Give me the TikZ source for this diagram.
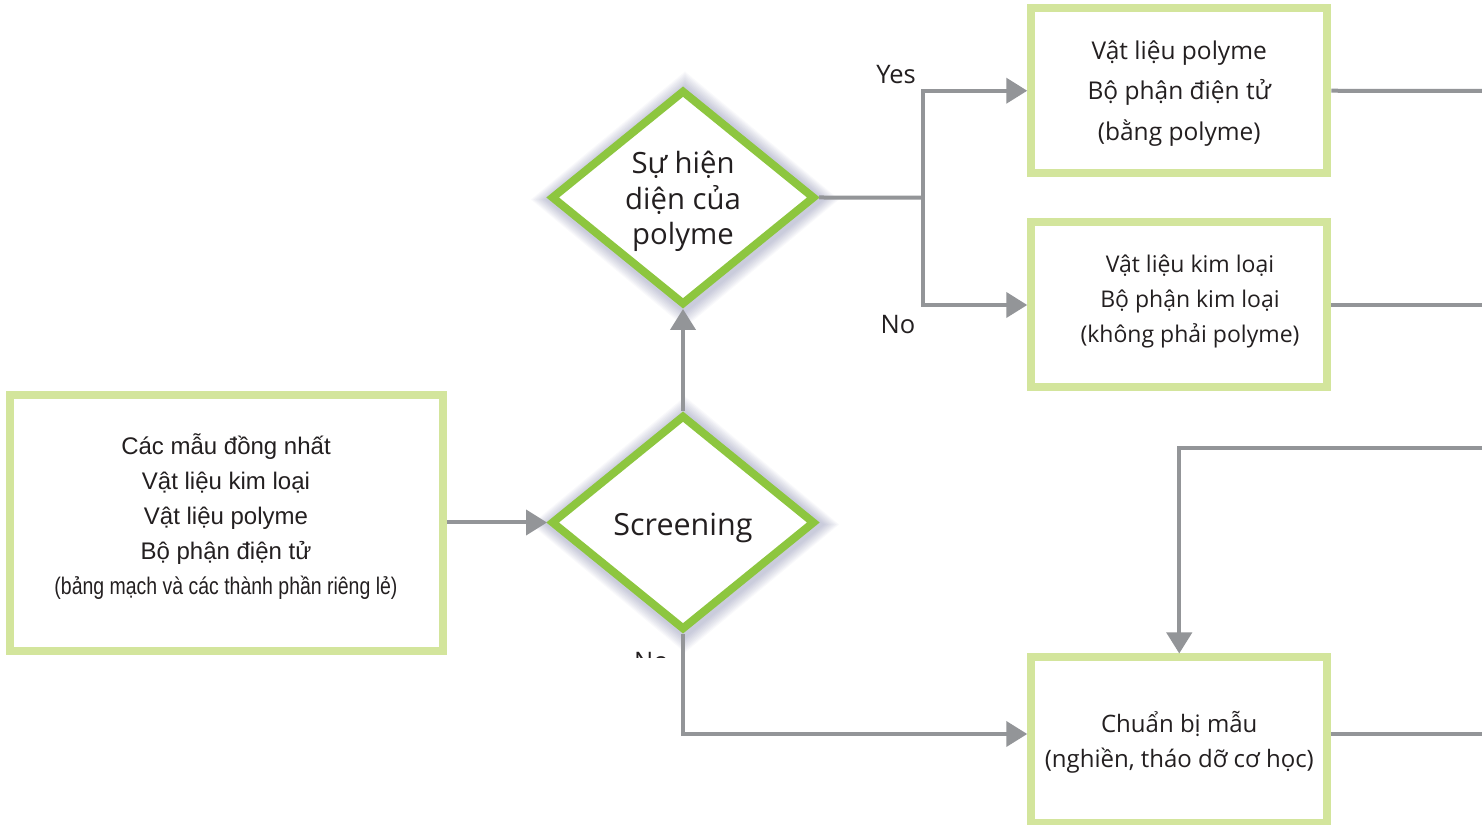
\documentclass[tikz,border=0pt]{standalone}
\usepackage{fontspec}
\usepackage{graphicx}
\setmainfont{Open Sans}
\newfontfamily\arialf{Liberation Sans}
\usetikzlibrary{shapes.geometric,arrows.meta}
\definecolor{diagreen}{HTML}{8DC63F}
\definecolor{boxgreen}{HTML}{D3E59C}
\definecolor{linegray}{HTML}{939598}
\definecolor{txt}{HTML}{231F20}
\definecolor{shadowc}{RGB}{95,100,150}
\newcommand\myDiaShadow[2]{%
  \foreach \k in {1,...,10}{%
    \fill[shadowc, opacity=0.035]
      ({#1+2-138-\k*1.6},{#2-2}) -- ({#1+2},{#2-2+112+\k*1.6}) --
      ({#1+2+138+\k*1.6},{#2-2}) -- ({#1+2},{#2-2-112-\k*1.6}) -- cycle;
  }}
\tikzset{
  conn/.style={draw=linegray, line width=4pt, -{Triangle[length=21pt,width=25pt]}},
  plain/.style={draw=linegray, line width=4pt},
  boxnode/.style={draw=boxgreen, line width=8pt, fill=white,
    inner sep=0pt, minimum width=296pt, minimum height=165pt},
  dianode/.style={diamond, draw=diagreen, line width=8pt, fill=white,
    inner sep=0pt, minimum width=264pt, minimum height=215pt},
  txtnode/.style={text=txt, align=center, inner sep=0pt},
  lbl/.style={text=txt, font=\fontsize{25.5pt}{28pt}\selectfont, inner sep=0pt},
}
\begin{document}
\begin{tikzpicture}[x=1pt,y=1pt]
\useasboundingbox (0,0) rectangle (1482,824);
\fill[white] (0,0) rectangle (1482,824);

% left box
\node[boxnode, minimum width=433pt, minimum height=256pt] (src) at (226,300.5) {};
\node[txtnode, font=\arialf\fontsize{24pt}{34.8pt}\selectfont] (srct) at (226,307.5)
  {Các mẫu đồng nhất\\ Vật liệu kim loại\\ Vật liệu polyme\\ Bộ phận điện tử\\
   \resizebox{343pt}{\height}{(bảng mạch và các thành phần riêng lẻ)}};

% diamonds with soft shadow
\myDiaShadow{683}{301.5}
\myDiaShadow{683}{626.5}
\node[dianode] (scr) at (683,301.5) {};
\node[txtnode, font=\fontsize{30.5pt}{36pt}\selectfont] (scrt) at (683,296.5) {Screening};
\node[dianode] (pol) at (683,626.5) {};
\node[txtnode, font=\fontsize{29.3pt}{35.5pt}\selectfont] (polt) at (683,622.5) {Sự hiện\\ diện của\\ polyme};

% right boxes
\node[boxnode] (b1) at (1179.25,733.25) {};
\node[txtnode, font=\fontsize{24.5pt}{40.5pt}\selectfont] (b1t) at (1179.25,730.5)
  {Vật liệu polyme\\ Bộ phận điện tử\\ (bằng polyme)};
\node[boxnode] (b2) at (1179.25,519) {};
\node[txtnode, font=\fontsize{23pt}{35pt}\selectfont] (b2t) at (1190,523)
  {Vật liệu kim loại\\ Bộ phận kim loại\\ (không phải polyme)};
\node[boxnode] (b3) at (1179.25,84) {};
\node[txtnode, font=\fontsize{24pt}{35pt}\selectfont] (b3t) at (1179.25,81.5)
  {Chuẩn bị mẫu\\ (nghiền, tháo dỡ cơ học)};

% labels
\node[lbl] (yes) at (896,749) {Yes};
\node[lbl] (no) at (898,499) {No};
\begin{scope}
  \clip (600,166) rectangle (680,190);
  \node[lbl, anchor=base west] (nohidden) at (634,153) {No};
\end{scope}

% free ends
\coordinate (jn) at (923,626.3);
\coordinate (e1) at (1482,733);
\coordinate (e2) at (1482,519);
\coordinate (e3) at (1482,90);
\coordinate (e4) at (1482,376);
\coordinate (fb) at (1179.25,376);
\coordinate (bot) at (683,90);

% connectors
\draw[conn] (src.east |- scr.west) -- (scr.west);
\draw[conn] (scr.north) -- (pol.south);
\draw[plain] (pol.east) -- (jn);
\draw[conn] (jn) |- (b1.west);
\draw[conn] (jn) |- (b2.west);
\draw[conn] (scr.south) -- (bot) -- ([yshift=6pt]b3.west);
\draw[plain] (b1.east) -- (e1);
\draw[plain] (b2.east) -- (e2);
\draw[plain] ([yshift=6pt]b3.east) -- (e3);
\draw[conn] (e4) -- (fb) -- (b3.north);
\end{tikzpicture}
\end{document}
